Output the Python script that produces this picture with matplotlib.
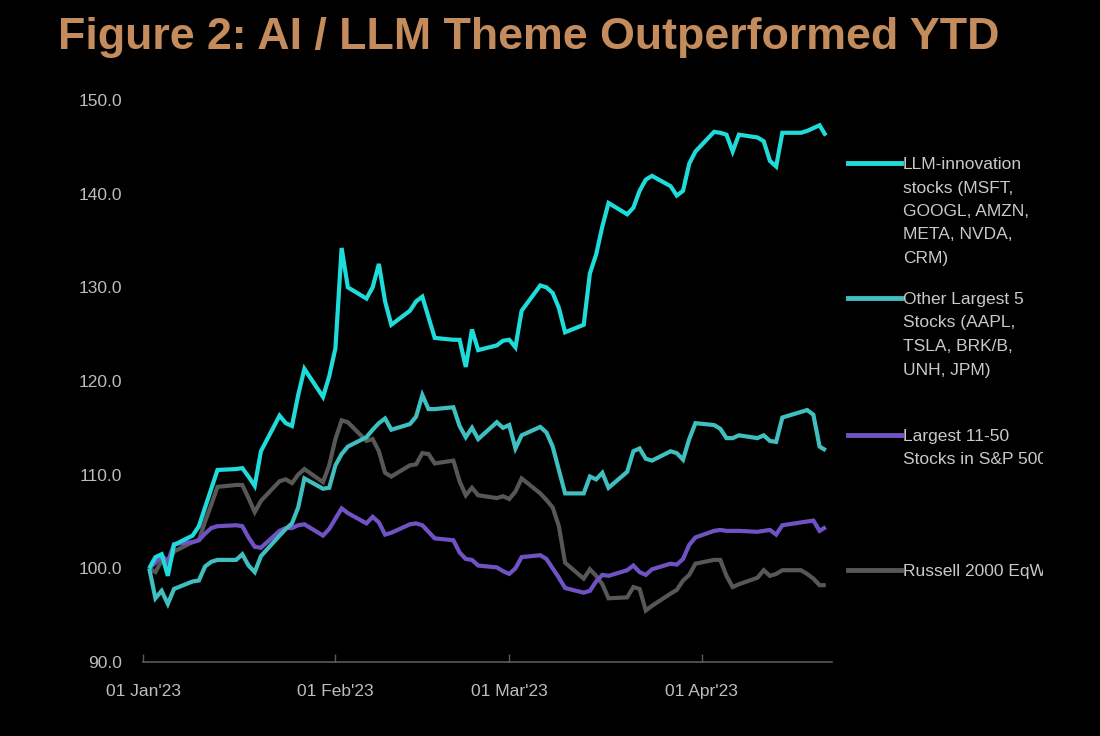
import matplotlib
matplotlib.use("Agg")
import matplotlib.pyplot as plt
from matplotlib.transforms import Bbox, TransformedBbox
import pandas as pd

# ---------------- data ----------------
dates = pd.bdate_range("2023-01-02", "2023-04-21")

llm = [100.0, 101.2, 101.5, 99.2, 102.5, 103.5, 104.5, 106.5, 108.5, 110.5,
       110.6, 110.7, 109.8, 108.8, 112.5, 116.3, 115.5, 115.2, 118.5, 121.3,
       118.3, 120.5,
       123.5, 134.2, 130.0, 128.8, 130.0, 132.5, 128.5, 126.0, 127.5, 128.5,
       129.0, 126.8, 124.6, 124.4, 124.4, 121.5, 125.5, 123.3, 123.8, 124.3,
       124.4, 123.6, 127.5, 130.2, 130.0, 129.4, 127.8, 125.2, 126.0, 131.5,
       133.5, 136.5, 139.0, 137.8, 138.5, 140.3, 141.5, 141.9, 140.8, 139.8,
       140.3, 143.2, 144.5,
       146.6, 146.5, 146.3, 144.5, 146.3, 146.0, 145.6, 143.5, 142.9, 146.5,
       146.5, 146.7, 147.0, 147.3, 146.2]

other5 = [100.0, 96.8, 97.6, 96.2, 97.8, 98.6, 98.7, 100.2, 100.7, 100.9,
          100.9, 101.5, 100.3, 99.6, 101.3, 103.5, 104.2, 104.8, 106.5, 109.6,
          108.5, 108.6,
          111.0, 112.2, 113.0, 114.0, 114.8, 115.5, 116.0, 114.8, 115.4, 116.2,
          118.5, 117.0, 117.0, 117.2, 115.2, 114.0, 115.0, 113.8, 115.6, 115.0,
          115.3, 112.8, 114.2, 115.1, 114.5, 113.0, 110.5, 108.0, 108.0, 109.8,
          109.5, 110.2, 108.6, 110.3, 112.5, 112.8, 111.7, 111.5, 112.5, 112.3,
          111.6, 113.8, 115.5,
          115.3, 114.9, 113.9, 113.9, 114.2, 113.9, 114.2, 113.6, 113.5, 116.1,
          116.7, 116.9, 116.4, 113.0, 112.6]

large11_50 = [100.0, 100.6, 101.4, 100.7, 102.6, 102.8, 103.0, 103.7, 104.3, 104.5,
              104.6, 104.5, 103.3, 102.3, 102.2, 104.0, 104.3, 104.3, 104.6, 104.7,
              103.5, 104.2,
              105.3, 106.4, 105.9, 104.8, 105.5, 104.9, 103.6, 103.8, 104.7, 104.8,
              104.6, 103.9, 103.2, 103.0, 101.7, 101.0, 100.9, 100.3, 100.1, 99.7,
              99.4, 100.0, 101.2, 101.4, 101.0, 100.0, 99.0, 97.9, 97.4, 97.6,
              98.6, 99.3, 99.2, 99.8, 100.3, 99.6, 99.3, 99.9, 100.5, 100.4,
              101.0, 102.5, 103.3,
              104.0, 104.1, 104.0, 104.0, 104.0, 103.9, 104.0, 104.1, 103.6, 104.6,
              104.9, 105.0, 105.1, 104.0, 104.4]

russell = [100.0, 99.6, 100.8, 100.3, 101.8, 102.8, 103.0, 105.0, 106.8, 108.7,
           108.9, 108.9, 107.5, 106.0, 107.2, 109.3, 109.5, 109.1, 110.0, 110.6,
           109.2, 111.0,
           113.8, 115.8, 115.6, 113.6, 113.8, 112.5, 110.2, 109.8, 111.0, 111.1,
           112.3, 112.2, 111.2, 111.5, 109.3, 107.8, 108.6, 107.8, 107.5, 107.7,
           107.4, 108.2, 109.6, 108.0, 107.3, 106.5, 104.5, 100.6, 98.9, 99.9,
           99.2, 98.3, 96.8, 96.9, 98.0, 97.8, 95.5, 96.0, 97.3, 97.7,
           98.7, 99.3, 100.5,
           100.9, 100.9, 99.2, 98.0, 98.3, 99.0, 99.8, 99.2, 99.4, 99.8,
           99.8, 99.4, 98.9, 98.2, 98.2]

series_names = [
    ["LLM-innovation", "stocks (MSFT,", "GOOGL, AMZN,", "META, NVDA,", "CRM)"],
    ["Other Largest 5", "Stocks (AAPL,", "TSLA, BRK/B,", "UNH, JPM)"],
    ["Largest 11-50", "Stocks in S&P 500"],
    ["Russell 2000 EqW"],
]
series_values = [llm, other5, large11_50, russell]
series_colors = ["#1FDCDA", "#3FBFC0", "#7152C4", "#575757"]

y_ticks = [90, 100, 110, 120, 130, 140, 150]
x_ticks = ["2023-01-01", "2023-02-01", "2023-03-01", "2023-04-01"]
x_tick_labels = ["01 Jan'23", "01 Feb'23", "01 Mar'23", "01 Apr'23"]
title = "Figure 2: AI / LLM Theme Outperformed YTD"

FAM = ["Liberation Sans", "DejaVu Sans"]

# ---------------- figure ----------------
W, H = 1100, 736
fig = plt.figure(figsize=(W / 100, H / 100), dpi=100, facecolor="black")
ax = fig.add_axes([143 / W, 1 - 662 / H, (832 - 143) / W, (662 - 100) / H])
ax.set_facecolor("black")

for idx in [3, 2, 1, 0]:
    ax.plot(dates, series_values[idx], color=series_colors[idx], lw=3.0,
            solid_joinstyle="miter", solid_capstyle="butt", zorder=3 + (3 - idx))

ax.set_ylim(90, 150)
ax.set_xlim(pd.Timestamp("2023-01-01"), pd.Timestamp("2023-04-22"))
ax.set_yticks(y_ticks)
ax.set_yticklabels([f"{v:.1f}" for v in y_ticks])
ax.set_xticks([pd.Timestamp(d) for d in x_ticks])
ax.set_xticklabels(x_tick_labels)

for s in ["top", "right", "left"]:
    ax.spines[s].set_visible(False)
ax.spines["bottom"].set_color("#5A5A5A")
ax.spines["bottom"].set_linewidth(1.2)
ax.tick_params(axis="y", length=0, pad=15, labelcolor="#BDBDBD")
ax.tick_params(axis="x", direction="in", length=6, width=1.0, color="#5A5A5A",
               pad=16, labelcolor="#BDBDBD")
for lab in ax.get_xticklabels() + ax.get_yticklabels():
    lab.set_family(FAM)
    lab.set_fontsize(12.5)

# Title
fig.text(58 / W, 1 - 37 / H, title, color="#C48B5C", fontsize=32.2, fontweight="bold",
         family=FAM, ha="left", va="center")

# Custom legend
clip = TransformedBbox(Bbox([[0, 0], [1043 / W, 1]]), fig.transFigure)
legend_y = [163, 298, 435, 570]
line_step = 23.5
for lines, col, yy in zip(series_names, series_colors, legend_y):
    yf = 1 - yy / H
    fig.add_artist(plt.Line2D([848 / W, 901 / W], [yf, yf], color=col, lw=3.5,
                              transform=fig.transFigure))
    for k, txt in enumerate(lines):
        t = fig.text(903 / W, 1 - (yy + k * line_step) / H, txt, color="#C9C9C9",
                     fontsize=12.5, family=FAM, ha="left", va="center_baseline")
        t.set_clip_box(clip)
        t.set_clip_on(True)

fig.savefig("out.png", dpi=100, facecolor="black")
